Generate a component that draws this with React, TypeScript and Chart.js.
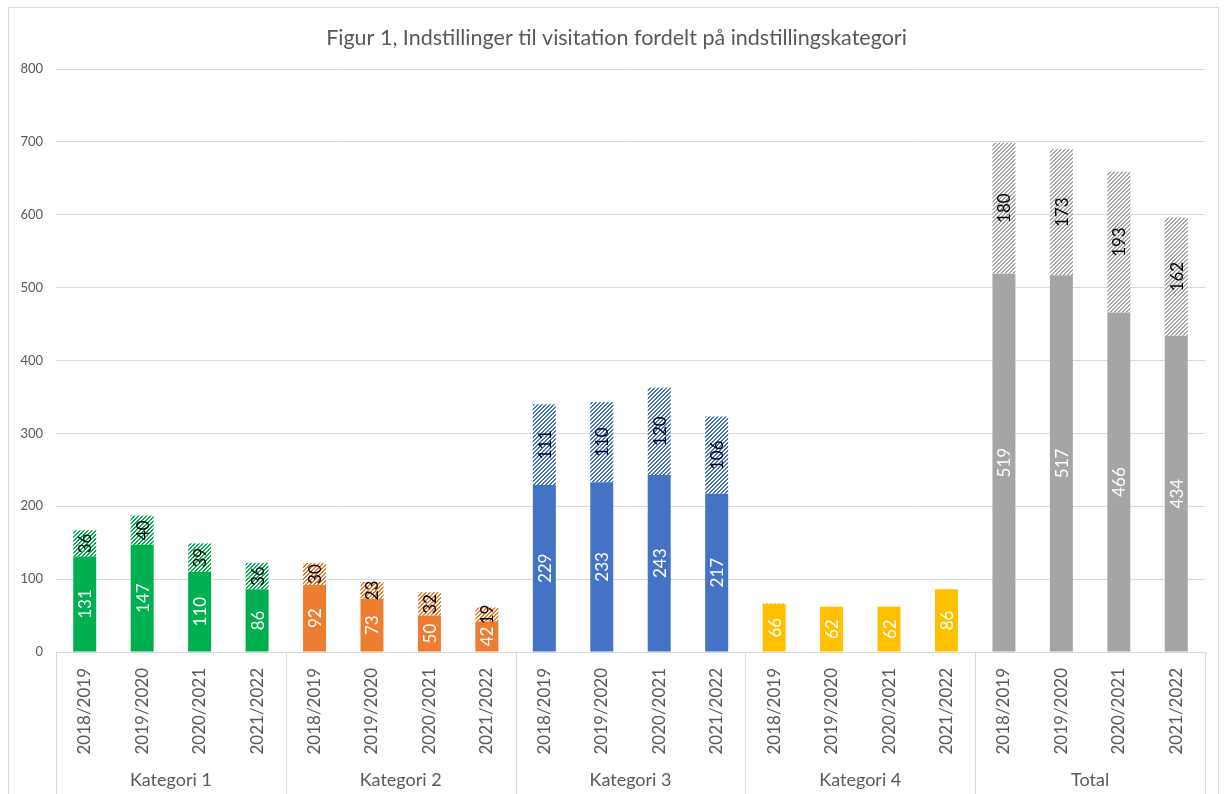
import React, { useEffect, useRef } from "react";
import { Chart, registerables } from "chart.js";

Chart.register(...registerables);

const groups = ["Kategori 1", "Kategori 2", "Kategori 3", "Kategori 4", "Total"];
const years = ["2018/2019", "2019/2020", "2020/2021", "2021/2022"];
const groupColors = ["#00B050", "#ED7D31", "#4472C4", "#FFC000", "#A5A5A5"];

const solidK1 = [131, 147, 110, 86];
const solidK2 = [92, 73, 50, 42];
const solidK3 = [229, 233, 243, 217];
const solidK4 = [66, 62, 62, 86];
const solidTotal = [519, 517, 466, 434];

const hatchK1 = [36, 40, 39, 36];
const hatchK2 = [30, 23, 32, 19];
const hatchK3 = [111, 110, 120, 106];
const hatchK4 = [1, 0, 0, 0];
const hatchTotal = [180, 173, 193, 162];

const titleText = "Figur 1, Indstillinger til visitation fordelt på indstillingskategori";
const yTicksMax = 800;
const yStep = 100;

const FONT = "Lato";
const TEXT_GRAY = "#595959";
const GRID = "#d9d9d9";

function makePattern(color: string): CanvasPattern | string {
  const c = document.createElement("canvas");
  c.width = 4;
  c.height = 4;
  const ctx = c.getContext("2d");
  if (!ctx) return color;
  ctx.fillStyle = "#ffffff";
  ctx.fillRect(0, 0, 4, 4);
  ctx.fillStyle = color;
  for (let x = 0; x < 4; x++) {
    for (let y = 0; y < 4; y++) {
      if ((x + y) % 4 < 2) ctx.fillRect(x, y, 1, 1);
    }
  }
  const p = ctx.createPattern(c, "repeat");
  return p || color;
}

export default function App() {
  const ref = useRef<HTMLCanvasElement | null>(null);

  useEffect(() => {
    document.documentElement.style.overflow = "hidden";
    document.body.style.overflow = "hidden";
    const canvas = ref.current;
    if (!canvas) return;

    const labels: string[] = [];
    const solid: number[] = [];
    const hatch: number[] = [];
    const solidBg: string[] = [];
    const hatchBg: (CanvasPattern | string)[] = [];
    const solidAll = [solidK1, solidK2, solidK3, solidK4, solidTotal];
    const hatchAll = [hatchK1, hatchK2, hatchK3, hatchK4, hatchTotal];
    groups.forEach((g, gi) => {
      const pat = makePattern(groupColors[gi]);
      years.forEach((yr, yi) => {
        labels.push(yr);
        solid.push(solidAll[gi][yi]);
        hatch.push(hatchAll[gi][yi]);
        solidBg.push(groupColors[gi]);
        hatchBg.push(pat);
      });
    });

    const barLabels = {
      id: "barLabels",
      afterDatasetsDraw(chart: any) {
        const ctx = chart.ctx;
        ctx.save();
        ctx.font = `17px ${FONT}`;
        ctx.textAlign = "center";
        ctx.textBaseline = "middle";
        chart.data.datasets.forEach((ds: any, di: number) => {
          const meta = chart.getDatasetMeta(di);
          meta.data.forEach((bar: any, i: number) => {
            const v = ds.data[i];
            if (!v || v < 5) return;
            const props = bar.getProps(["x", "y", "base"], true);
            const cy = (props.y + props.base) / 2;
            ctx.save();
            ctx.translate(props.x, cy);
            ctx.rotate(-Math.PI / 2);
            ctx.fillStyle = di === 0 ? "#ffffff" : "#000000";
            ctx.fillText(String(v), 0, 1);
            ctx.restore();
          });
        });
        ctx.restore();
      },
    };

    const decor = {
      id: "decor",
      afterDraw(chart: any) {
        const ctx = chart.ctx;
        const area = chart.chartArea;
        const xs = chart.scales.x;
        const h = chart.height;
        ctx.save();
        // title
        ctx.fillStyle = TEXT_GRAY;
        ctx.font = `21.5px ${FONT}`;
        ctx.textAlign = "center";
        ctx.textBaseline = "middle";
        ctx.fillText(titleText, (area.left + area.right) / 2 - 14, 30);
        // separators
        ctx.strokeStyle = GRID;
        ctx.lineWidth = 1;
        const n = years.length;
        const bounds: number[] = [area.left];
        for (let g = 1; g < groups.length; g++) {
          const a = xs.getPixelForValue(g * n - 1);
          const b = xs.getPixelForValue(g * n);
          bounds.push((a + b) / 2);
        }
        bounds.push(area.right);
        bounds.forEach((bx) => {
          const px = Math.round(bx) + 0.5;
          ctx.beginPath();
          ctx.moveTo(px, area.bottom);
          ctx.lineTo(px, h);
          ctx.stroke();
        });
        // group labels
        ctx.fillStyle = TEXT_GRAY;
        ctx.font = `18px ${FONT}`;
        groups.forEach((g, gi) => {
          ctx.fillText(g, (bounds[gi] + bounds[gi + 1]) / 2, 772);
        });
        ctx.restore();
      },
    };

    const chart = new Chart(canvas, {
      type: "bar",
      data: {
        labels,
        datasets: [
          {
            label: "solid",
            data: solid,
            backgroundColor: solidBg,
            borderWidth: 0,
            categoryPercentage: 1,
            barPercentage: 0.4,
          },
          {
            label: "hatch",
            data: hatch,
            backgroundColor: hatchBg as any,
            borderWidth: 0,
            categoryPercentage: 1,
            barPercentage: 0.4,
          },
        ],
      },
      options: {
        animation: false,
        responsive: false,
        maintainAspectRatio: false,
        layout: { padding: { top: 61, right: 13, left: 0, bottom: 0 } },
        plugins: {
          legend: { display: false },
          tooltip: { enabled: false },
          title: { display: false },
        },
        scales: {
          x: {
            stacked: true,
            grid: { display: false },
            border: { display: true, color: GRID },
            ticks: {
              minRotation: 90,
              maxRotation: 90,
              autoSkip: false,
              padding: 8,
              color: TEXT_GRAY,
              font: { family: FONT, size: 17 },
            },
            afterFit: (scale: any) => {
              scale.height = 142;
            },
          },
          y: {
            stacked: true,
            min: 0,
            max: yTicksMax,
            grid: { color: GRID, lineWidth: 1, drawTicks: false },
            border: { display: false },
            ticks: {
              stepSize: yStep,
              padding: 13,
              color: TEXT_GRAY,
              font: { family: FONT, size: 13 },
            },
            afterFit: (scale: any) => {
              scale.width = 47;
            },
          },
        },
      },
      plugins: [barLabels, decor],
    });

    return () => {
      chart.destroy();
    };
  }, []);

  return (
    <div
      style={{
        position: "absolute",
        left: 8,
        top: 7,
        width: 1211,
        height: 787,
        boxSizing: "border-box",
        borderTop: "1px solid #d9d9d9",
        borderLeft: "1px solid #d9d9d9",
        borderRight: "1px solid #d9d9d9",
        background: "#fff",
      }}
    >
      <canvas ref={ref} width={1209} height={786} style={{ display: "block", width: 1209, height: 786 }} />
    </div>
  );
}
